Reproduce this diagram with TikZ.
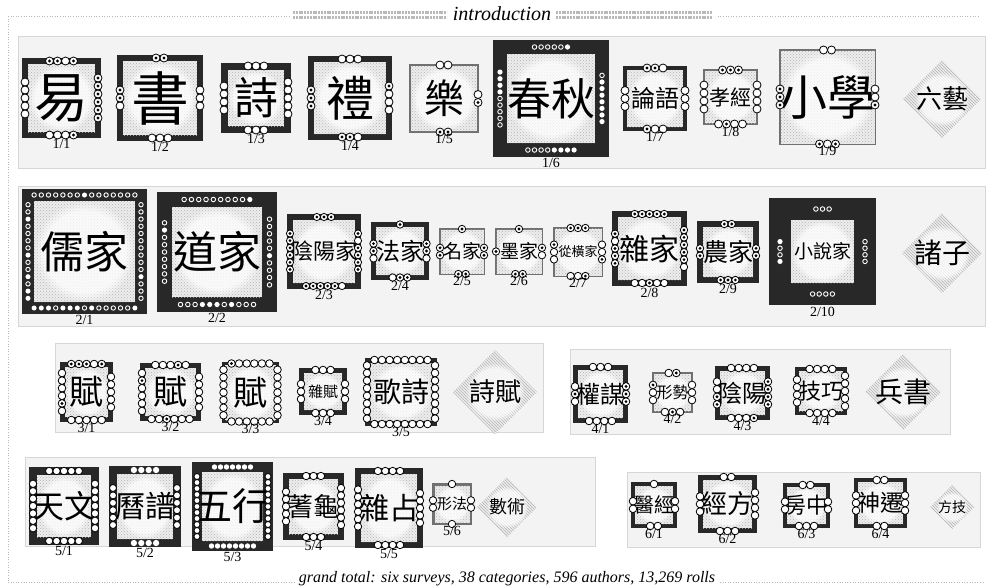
\documentclass[tikz,border=0pt]{standalone}
\usepackage{fontspec}
\setmainfont{Liberation Serif}
\newfontfamily\cjk{Noto Sans CJK TC}
\usetikzlibrary{calc,patterns,fadings}
\definecolor{frm}{HTML}{282828}
\definecolor{thin}{HTML}{707070}
\definecolor{pnl}{HTML}{F3F3F3}
\definecolor{pnlb}{HTML}{D6D6D6}
\tikzset{
  panel/.style={fill=pnl,draw=pnlb,line width=0.8pt},
  lbl/.style={inner sep=0pt,font=\fontsize{14}{14}\selectfont},
  rule/.style={gray!55,dotted,line width=0.6pt},
  noise/.style={gray!55,line width=2.6pt,dash pattern=on 2pt off 0.8pt},
  texture/.style={pattern=crosshatch dots,pattern color=gray!60},
}
\newcommand\countlist[1]{\gdef\nlist{0}\foreach \uu in {#1}{\pgfmathtruncatemacro\tmpn{\nlist+1}\global\let\nlist\tmpn}}
\newcommand\cir[1]{%
 \if#1o\draw[black,fill=white,line width=0.8pt] (cc) circle [radius=\crad pt];\fi
 \if#1d\draw[black,fill=white,line width=0.8pt] (cc) circle [radius=\crad pt];\fill[black] (cc) circle [radius={\crad*0.42pt}];\fi
 \if#1w\fill[white] (cc) circle [radius={\crad*0.9pt}];\fi
 \if#1r\draw[white,line width=0.9pt] (cc) circle [radius={\crad*0.78pt}];\fi}
\newcommand\crow[2]{%
 \if\relax\detokenize{#2}\relax\else
  \countlist{#2}%
  \foreach \ctype [count=\ci] in {#2}{%
   \pgfmathsetmacro\cpos{(\ci-(\nlist+1)/2)*\csp}%
   \if#1t\coordinate (cc) at ($(\cn.north)+(\cpos,\cof)$);\fi
   \if#1b\coordinate (cc) at ($(\cn.south)+(\cpos,-\cof)$);\fi
   \if#1l\coordinate (cc) at ($(\cn.west)+(\cof,\cpos)$);\fi
   \if#1r\coordinate (cc) at ($(\cn.east)+(-\cof,\cpos)$);\fi
   \cir{\ctype}}%
 \fi}
\newcommand\csides[8]{\def\cn{#1}\def\cof{#2}\def\crad{#3}\def\csp{#4}%
 \crow{t}{#5}\crow{b}{#6}\crow{l}{#7}\crow{r}{#8}}
\newcommand\cbox[9]{%
 \node[fill=#7,inner sep=0pt,outer sep=0pt,anchor=north west,
   minimum width={(#4-#2)*1pt},minimum height={(#5-#3)*1pt}] (#1) at (#2,#3) {};
 \path ($(#1.north west)+(#6,#6)$) coordinate (#1-a) ($(#1.south east)+(-#6,-#6)$) coordinate (#1-b);
 \fill[gray!14] (#1-a) rectangle (#1-b);
 \fill[texture] (#1-a) rectangle (#1-b);
 \fill[white,opacity=0.75,path fading=circle with fuzzy edge 20 percent] (#1-a) rectangle (#1-b);
 \node[inner sep=0pt,font=\cjk\fontsize{#8}{#8}\selectfont] (#1-t) at (#1.center) {#9};}
\newcommand\clab[2]{\node[lbl,anchor=north] (#1-l) at ($(#1.south)+(0,1.5)$) {#2};}
\newcommand\dia[6]{%
 \coordinate (#1) at (#2,#3);
 \fill[gray!14] ($(#1)+(0,-#4)$) -- ($(#1)+(#4,0)$) -- ($(#1)+(0,#4)$) -- ($(#1)+(-#4,0)$) -- cycle;
 \fill[pattern=north west lines,pattern color=gray!60] ($(#1)+(0,-#4)$) -- ($(#1)+(#4,0)$) -- ($(#1)+(0,#4)$) -- ($(#1)+(-#4,0)$) -- cycle;
 \fill[white,opacity=0.75,path fading=circle with fuzzy edge 20 percent] ($(#1)+(-#4*0.7,-#4*0.7)$) rectangle ($(#1)+(#4*0.7,#4*0.7)$);
 \node[inner sep=0pt,font=\cjk\fontsize{#5}{#5}\selectfont] (#1-t) at (#1) {#6};}
\begin{document}
\begin{tikzpicture}[x=1pt,y=-1pt]
\useasboundingbox[fill=white] (0,0) rectangle (986,587);
% frame rules and titles
\draw[rule] (8,16) -- (980,16);
\draw[rule] (8,16) -- (8,582);
\draw[rule] (8,582) -- (296,582);
\draw[rule] (720,582) -- (985,582);
\fill[white] (290,8) rectangle (716,22);
\draw[noise] (293,12.5) -- (447,12.5);
\draw[noise] (293,17.5) -- (447,17.5);
\draw[noise] (556,12.5) -- (712,12.5);
\draw[noise] (556,17.5) -- (712,17.5);
\node[inner sep=0pt,font=\itshape\fontsize{20}{20}\selectfont] (title) at (502,14) {introduction};
\node[inner sep=0pt,font=\itshape\fontsize{16}{16}\selectfont] (total) at (507,579) {grand total: six surveys, 38 categories, 596 authors, 13,269 rolls};
% panels
\draw[panel] (18,36) rectangle (985,168);
\draw[panel] (18,186) rectangle (985,326);
\draw[panel] (55,343) rectangle (543,432);
\draw[panel] (570,349) rectangle (950,434);
\draw[panel] (25,457) rectangle (595,546);
\draw[panel] (627,472) rectangle (980,547);
% row 1
\cbox{b11}{22}{58}{101}{138}{6}{frm}{54}{易}
\csides{b11}{3}{4.0}{8.0}{d,d,o,d}{o,o,o,d}{o,o,o,o,o}{d,d,d,d,d,d}
\cbox{b12}{117}{55}{203}{141}{6}{frm}{58}{書}
\csides{b12}{3}{4.0}{8.0}{d,d}{o,o,o}{d,d,o}{o,o,o}
\cbox{b13}{221}{63}{291}{133}{7}{frm}{44}{詩}
\csides{b13}{3}{4.0}{8.0}{o,o,o}{o,o,o}{o,o,o,o}{o,o,o,o,o}
\cbox{b14}{308}{56}{392}{140}{6}{frm}{48}{禮}
\csides{b14}{3}{4.0}{8.0}{o,o,o}{d,d,o}{d,d,d}{d,o,o,o}
\cbox{b15}{409}{64}{479}{133}{2}{thin}{40}{樂}
\csides{b15}{1}{4.0}{8.0}{o,o}{d,d}{}{o,d}
\cbox{b16}{493}{40}{609}{157}{14}{frm}{44}{春秋}
\csides{b16}{7}{2.9}{6.6}{r,r,r,r,r,w}{r,r,r,r,w,w,w,w}{w,w,w,w,r,r,r,r,r}{r,w,w,w,w,w,w,w}
\cbox{b17}{623}{66}{687}{131}{4}{frm}{24}{論語}
\csides{b17}{2}{4.0}{8.0}{d,d,o}{d,o,o}{o,o,o}{o,o,o}
\cbox{b18}{703}{69}{758}{125}{2}{thin}{21}{孝經}
\csides{b18}{1}{4.0}{8.0}{d,d,d}{o,d,o,o}{o,o,o,o}{o,o,o,o}
\cbox{b19}{779}{49}{876}{145}{1.5}{thin}{48}{小學}
\csides{b19}{1}{4.0}{8.0}{o,o}{d,o,d}{d,d,d}{o,o,d}
\dia{d1}{942}{99}{39}{26}{六藝}
\clab{b11}{1/1}\clab{b12}{1/2}\clab{b13}{1/3}\clab{b14}{1/4}\clab{b15}{1/5}
\clab{b16}{1/6}\clab{b17}{1/7}\clab{b18}{1/8}\clab{b19}{1/9}
% row 2
\cbox{b21}{22}{189}{147}{314}{12}{frm}{44}{儒家}
\csides{b21}{6}{2.8}{7.2}{r,r,r,r,r,r,r,w,r,r,r,r,r,r,r}{w,w,w,r,w,w,w,r,w,r,r,r,r,r,w}{r,r,w,r,r,r,r,w,r,r,w,r,w,w}{r,r,r,r,r,r,r,r,r,r,w,r,r,r}
\cbox{b22}{157}{192}{277}{312}{15}{frm}{44}{道家}
\csides{b22}{7.5}{2.9}{7.3}{r,r,r,r,r,r,r,r,r,w}{r,r,r,w,w,w,r,w,r,r,r}{r,w,r,r,r,r,r,r,r}{r,r,r,r,r,w,r,r,r,r}
\cbox{b23}{287}{214}{361}{289}{6}{frm}{22}{陰陽家}
\csides{b23}{3}{3.6}{7.2}{d,d,d}{d,d,d,d,d,o}{d,d,d,d,d,d}{d,o,d,d,d,d}
\cbox{b24}{371}{222}{429}{280}{5}{frm}{24}{法家}
\csides{b24}{2.5}{3.7}{7.4}{d}{o,d,d}{d,d,o}{d,d,o}
\cbox{b25}{439}{228}{485}{275}{1.5}{thin}{19}{名家}
\csides{b25}{1}{3.7}{7.4}{d}{d,d}{d,d}{d,d}
\cbox{b26}{495}{228}{543}{275}{1.5}{thin}{19}{墨家}
\csides{b26}{1}{3.7}{7.4}{d}{d,d}{d}{d,o}
\cbox{b27}{553}{227}{603}{277}{1.5}{thin}{13}{從橫家}
\csides{b27}{1}{3.7}{7.4}{d,d,d}{o,o,d}{d,o,o}{o,o,d}
\cbox{b28}{612}{211}{687}{286}{6}{frm}{30}{雜家}
\csides{b28}{3}{3.7}{7.4}{d,d,d,d,d}{o,o,d,o,o}{d,o,d,d,d}{d,d,d,d,d,o}
\cbox{b29}{697}{221}{759}{283}{6}{frm}{25}{農家}
\csides{b29}{3}{3.7}{7.4}{d,d}{d,d,d}{d,d}{d,d}
\cbox{b210}{769}{198}{876}{305}{22}{frm}{19}{小說家}
\csides{b210}{11}{2.9}{6.6}{r,r,r}{r,r,r,r}{w,r,r,w}{r,r,r,r}
\dia{d2}{942}{253}{40}{28}{諸子}
\clab{b21}{2/1}\clab{b22}{2/2}\clab{b23}{2/3}\clab{b24}{2/4}\clab{b25}{2/5}
\clab{b26}{2/6}\clab{b27}{2/7}\clab{b28}{2/8}\clab{b29}{2/9}\clab{b210}{2/10}
% row 3
\cbox{b31}{60}{362}{113}{422}{5}{frm}{34}{賦}
\csides{b31}{2}{3.8}{7.6}{d,d,d,o,d}{o,o,o,o,o}{o,o,o,o,d,o}{o,o,o,o,o}
\cbox{b32}{140}{363}{201}{421}{5}{frm}{34}{賦}
\csides{b32}{2}{3.8}{7.6}{o,o,o,d,o}{o,o,d,o,o,o}{o,d,o,o,o,o}{o,o,o,o,o}
\cbox{b33}{222}{362}{279}{423}{3}{frm}{34}{賦}
\csides{b33}{1.5}{3.8}{7.6}{d,o,o,o,o,o}{o,o,o,o,o,o}{o,o,o,o,o,o,o}{o,o,o,o,o,o,o}
\cbox{b34}{299}{368}{347}{415}{5}{frm}{15}{雜賦}
\csides{b34}{2}{3.8}{7.6}{o,o,o}{o,o,o}{o,o,o}{o,o,o}
\cbox{b35}{365}{358}{437}{426}{5}{frm}{28}{歌詩}
\csides{b35}{2}{3.8}{7.6}{o,o,o,o,o,o,o,o}{o,o,o,o,o,o,o,o}{o,o,o,o,o,o,o,o}{o,o,o,o,o,o,o,o}
\dia{d3}{495}{392}{42}{26}{詩賦}
\clab{b31}{3/1}\clab{b32}{3/2}\clab{b33}{3/3}\clab{b34}{3/4}\clab{b35}{3/5}
% row 4
\cbox{b41}{573}{365}{628}{423}{5}{frm}{24}{權謀}
\csides{b41}{2}{3.8}{7.6}{o,o,o}{o,o,o,o}{o,d,o}{d,d,d}
\cbox{b42}{652}{372}{693}{413}{2}{thin}{16}{形勢}
\csides{b42}{1}{3.8}{7.6}{o,d}{o,d,o}{d,o,o}{o,o,o}
\cbox{b43}{715}{366}{770}{420}{5}{frm}{24}{陰陽}
\csides{b43}{2}{3.8}{7.6}{o,o,o,o}{o,o,o,d}{o,o,d,d}{d,d,d,d}
\cbox{b44}{795}{367}{847}{415}{4}{frm}{22}{技巧}
\csides{b44}{2}{3.8}{7.6}{o,o,o,o}{o,o,o,o}{o,o,o,o}{o,o,o,o,o}
\dia{d4}{903}{392}{38}{28}{兵書}
\clab{b41}{4/1}\clab{b42}{4/2}\clab{b43}{4/3}\clab{b44}{4/4}
% row 5
\cbox{b51}{29}{467}{99}{545}{8}{frm}{32}{天文}
\csides{b51}{4}{3.7}{7.4}{o,o,o,o,o}{o,o,o,o,o}{o,o,o,o,o,o,o}{o,o,o,o,o,o,o}
\cbox{b52}{109}{466}{181}{547}{8}{frm}{30}{曆譜}
\csides{b52}{4}{3.5}{7.4}{w,w,w,w}{w,w,w,w}{o,o,o,o,o,o}{o,o,o,o,o,o}
\cbox{b53}{192}{462}{273}{551}{10}{frm}{38}{五行}
\csides{b53}{5}{3.0}{6.0}{w,w,w,w,w,w,w}{w,w,w,w,w,w,w,w}{o,o,o,o,o,o,o,o,o,o,o}{o,o,o,o,o,o,o,o,o,o,o}
\cbox{b54}{283}{473}{344}{540}{6}{frm}{26}{蓍龜}
\csides{b54}{3}{3.7}{7.4}{o,o,o}{o,o,o}{o,o,o,o,o}{o,o,o,o,o,o}
\cbox{b55}{355}{468}{423}{548}{6}{frm}{30}{雜占}
\csides{b55}{3}{3.7}{7.4}{o,o,o,o}{o,o,o,o}{o,o,o,o,o,o}{o,o,o,o,o}
\cbox{b56}{432}{483}{472}{525}{2.5}{thin}{15}{形法}
\csides{b56}{1}{3.7}{7.4}{o}{o}{o,o}{o,o}
\dia{d5}{507}{507}{30}{18}{數術}
\clab{b51}{5/1}\clab{b52}{5/2}\clab{b53}{5/3}\clab{b54}{5/4}\clab{b55}{5/5}\clab{b56}{5/6}
% row 6
\cbox{b61}{631}{482}{677}{528}{4}{frm}{20}{醫經}
\csides{b61}{2}{3.8}{7.6}{o}{o,o}{o,o}{o,o}
\cbox{b62}{698}{475}{757}{533}{5}{frm}{26}{經方}
\csides{b62}{2}{3.8}{7.6}{o,o}{o,o,o}{o,o,o}{o,o,o,o}
\cbox{b63}{783}{483}{830}{528}{4}{frm}{22}{房中}
\csides{b63}{2}{3.8}{7.6}{o,o}{o,o,o}{o,o}{o,o}
\cbox{b64}{854}{478}{907}{528}{4}{frm}{23}{神遷}
\csides{b64}{2}{3.8}{7.6}{o,o}{o,o}{o,o,o}{o,o,o}
\dia{d6}{952}{507}{22}{14}{方技}
\clab{b61}{6/1}\clab{b62}{6/2}\clab{b63}{6/3}\clab{b64}{6/4}
\end{tikzpicture}
\end{document}
